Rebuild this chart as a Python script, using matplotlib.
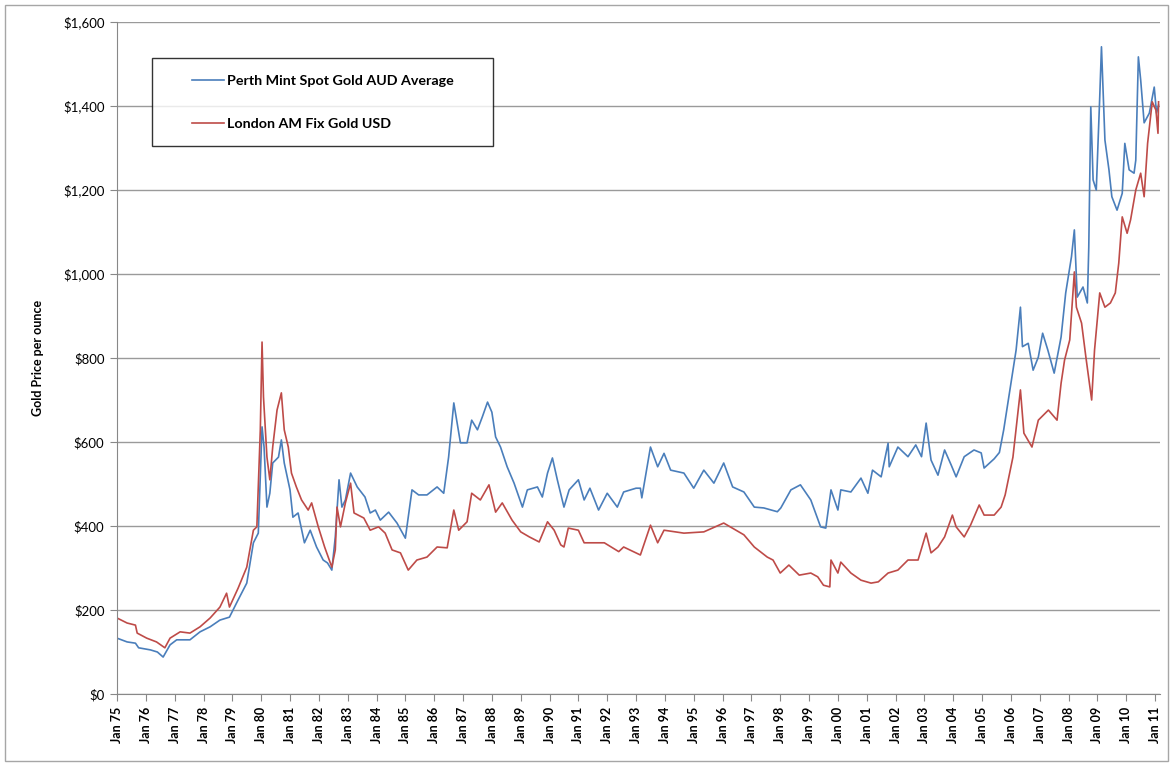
import matplotlib.pyplot as plt
from matplotlib.legend_handler import HandlerLine2D
from matplotlib.patches import Rectangle
from matplotlib.ticker import FuncFormatter
import numpy as np

# -------------------------- Data -------------------------- #

aud_t = [1975.0, 1975.35, 1975.64, 1975.75, 1976.16, 1976.4, 1976.6, 1976.84, 1977.07, 1977.53,
         1977.88, 1978.23, 1978.57, 1978.9, 1979.2, 1979.5, 1979.73, 1979.9, 1980.03, 1980.1,
         1980.2, 1980.3, 1980.4, 1980.6, 1980.7, 1980.8, 1981.0, 1981.1, 1981.28, 1981.5,
         1981.7, 1981.92, 1982.15, 1982.3, 1982.45, 1982.57, 1982.7, 1982.8, 1982.92, 1983.1,
         1983.33, 1983.6, 1983.78, 1983.96, 1984.13, 1984.42, 1984.71, 1985.0, 1985.23, 1985.46,
         1985.75, 1986.1, 1986.33, 1986.5, 1986.68, 1986.91, 1987.14, 1987.3, 1987.5, 1987.67,
         1987.85, 1988.0, 1988.13, 1988.3, 1988.53, 1988.77, 1989.06, 1989.23, 1989.58, 1989.75,
         1989.93, 1990.1, 1990.27, 1990.5, 1990.68, 1991.0, 1991.2, 1991.4, 1991.7, 1992.0,
         1992.35, 1992.57, 1993.0, 1993.15, 1993.2, 1993.5, 1993.75, 1993.97, 1994.2, 1994.66,
         1995.0, 1995.35, 1995.7, 1996.04, 1996.35, 1996.74, 1997.1, 1997.43, 1997.9, 1998.02,
         1998.37, 1998.7, 1999.06, 1999.4, 1999.58, 1999.76, 2000.0, 2000.1, 2000.45, 2000.8,
         2001.04, 2001.2, 2001.5, 2001.74, 2001.78, 2002.08, 2002.43, 2002.7, 2002.9, 2003.06,
         2003.23, 2003.47, 2003.7, 2003.93, 2004.1, 2004.38, 2004.72, 2004.97, 2005.07, 2005.42,
         2005.6, 2005.75, 2006.0, 2006.18, 2006.33, 2006.4, 2006.6, 2006.77, 2006.95, 2007.1,
         2007.28, 2007.5, 2007.74, 2007.9, 2008.1, 2008.2, 2008.3, 2008.5, 2008.65, 2008.7,
         2008.77, 2008.85, 2008.96, 2009.08, 2009.14, 2009.26, 2009.4, 2009.5, 2009.68, 2009.86,
         2009.95, 2010.1, 2010.27, 2010.33, 2010.42, 2010.5, 2010.62, 2010.8, 2010.97, 2011.05,
         2011.12]
aud_price = [133, 124, 121, 110, 105, 100, 88, 117, 129, 129,
             148, 160, 176, 183, 224, 264, 360, 383, 636, 588,
             445, 478, 550, 564, 605, 550, 486, 421, 431, 360,
             390, 350, 319, 312, 295, 374, 510, 445, 462, 526,
             493, 469, 431, 438, 414, 433, 407, 371, 486, 474,
             474, 493, 478, 564, 693, 598, 598, 652, 629, 660,
             695, 671, 612, 588, 541, 502, 445, 486, 493, 469,
             526, 562, 510, 445, 486, 510, 462, 490, 438, 478,
             445, 481, 490, 490, 467, 588, 541, 573, 533, 526,
             490, 533, 502, 550, 493, 481, 445, 443, 434, 443,
             486, 498, 462, 398, 395, 486, 438, 486, 481, 514,
             478, 533, 517, 597, 541, 588, 565, 593, 565, 645,
             557, 521, 581, 545, 517, 565, 581, 574, 538, 560,
             575, 629, 740, 819, 921, 827, 835, 771, 802, 859,
             819, 764, 850, 955, 1041, 1105, 945, 969, 931, 1064,
             1398, 1224, 1200, 1421, 1541, 1319, 1248, 1184, 1152, 1192,
             1311, 1248, 1240, 1271, 1517, 1462, 1360, 1383, 1445, 1383,
             1402]

usd_t = [1975.0, 1975.35, 1975.64, 1975.7, 1976.03, 1976.37, 1976.66, 1976.84, 1977.19, 1977.53,
         1977.88, 1978.23, 1978.57, 1978.8, 1978.9, 1979.2, 1979.5, 1979.73, 1979.85, 1979.97,
         1980.03, 1980.08, 1980.2, 1980.3, 1980.4, 1980.55, 1980.7, 1980.8, 1980.94, 1981.05,
         1981.22, 1981.4, 1981.63, 1981.75, 1981.98, 1982.2, 1982.45, 1982.57, 1982.63, 1982.75,
         1982.92, 1983.1, 1983.22, 1983.56, 1983.78, 1984.07, 1984.3, 1984.54, 1984.83, 1985.1,
         1985.4, 1985.75, 1986.1, 1986.45, 1986.68, 1986.85, 1987.14, 1987.3, 1987.6, 1987.9,
         1988.13, 1988.36, 1988.7, 1989.0, 1989.3, 1989.64, 1989.93, 1990.16, 1990.39, 1990.5,
         1990.65, 1991.0, 1991.2, 1991.9, 1992.4, 1992.57, 1993.15, 1993.5, 1993.75, 1993.97,
         1994.66, 1995.35, 1996.04, 1996.74, 1997.1, 1997.55, 1997.75, 1998.0, 1998.3, 1998.66,
         1999.06, 1999.3, 1999.5, 1999.72, 1999.76, 2000.0, 2000.1, 2000.45, 2000.8, 2001.15,
         2001.4, 2001.74, 2002.08, 2002.43, 2002.78, 2003.06, 2003.23, 2003.47, 2003.7, 2003.97,
         2004.1, 2004.38, 2004.6, 2004.9, 2005.07, 2005.42, 2005.66, 2005.8, 2006.0, 2006.07,
         2006.33, 2006.45, 2006.73, 2006.95, 2007.3, 2007.6, 2007.74, 2007.86, 2008.04, 2008.2,
         2008.27, 2008.45, 2008.6, 2008.8, 2008.9, 2009.08, 2009.26, 2009.45, 2009.62, 2009.74,
         2009.86, 2010.03, 2010.15, 2010.33, 2010.5, 2010.62, 2010.74, 2010.9, 2011.03, 2011.1,
         2011.12]
usd_price = [181, 169, 164, 145, 133, 124, 110, 133, 148, 145,
             160, 181, 207, 240, 207, 252, 302, 390, 398, 629,
             838, 707, 564, 510, 588, 676, 717, 629, 588, 526,
             493, 462, 438, 455, 398, 350, 302, 343, 445, 398,
             455, 502, 431, 419, 390, 398, 383, 343, 336, 295,
             319, 326, 350, 348, 438, 390, 410, 478, 462, 498,
             433, 455, 414, 386, 374, 362, 410, 390, 355, 350,
             395, 390, 360, 360, 339, 350, 331, 402, 360, 390,
             383, 386, 407, 379, 350, 326, 319, 288, 307, 283,
             288, 279, 259, 255, 319, 288, 314, 288, 271, 264,
             267, 288, 295, 319, 319, 383, 336, 350, 374, 426,
             398, 374, 402, 450, 426, 426, 445, 474, 540, 564,
             724, 621, 588, 652, 676, 652, 740, 795, 843, 1005,
             921, 883, 802, 700, 819, 955, 921, 931, 955, 1026,
             1136, 1097, 1129, 1200, 1240, 1184, 1311, 1410, 1390, 1335,
             1410]

years = list(range(1975, 2012))
year_labels = ["Jan %02d" % (y % 100) for y in years]

series_names = ["Perth Mint Spot Gold AUD Average", "London AM Fix Gold USD"]
colors = ["#4a7ebb", "#be4b48"]


class ShiftedLine(HandlerLine2D):
    # legend handle drawn only on the right part of the handle box (Excel style indent)
    def get_xdata(self, legend, xdescent, ydescent, width, height, fontsize):
        x = np.array([-xdescent + width * 0.42, -xdescent + width])
        return x, x


# -------------------------- Plot ---------------------------- #

plt.rcParams['font.family'] = ['Lato', 'DejaVu Sans']

fig = plt.figure(figsize=(11.73, 7.66), dpi=100)
ax = fig.add_axes([117 / 1173, 1 - 694 / 766, 1043 / 1173, 672 / 766])

ax.plot(aud_t, aud_price, color=colors[0], lw=1.2, label=series_names[0])
ax.plot(usd_t, usd_price, color=colors[1], lw=1.2, label=series_names[1])

ax.set_xlim(1975.0, 2011.17)
ax.set_ylim(0, 1600)
ax.set_yticks(range(0, 1601, 200))
ax.yaxis.set_major_formatter(FuncFormatter(lambda v, p: "${:,.0f}".format(v)))
ax.set_xticks(years)
ax.set_xticklabels(year_labels, rotation=90, fontweight='bold', fontsize=9)
ax.tick_params(axis='y', labelsize=9.5, length=5, color='#888888', pad=4)
ax.tick_params(axis='x', length=5, color='#888888', pad=4)

ax.grid(axis='y', color='#9a9a9a', lw=1.0)
ax.set_axisbelow(True)
for side in ['top', 'right']:
    ax.spines[side].set_visible(False)
for side in ['left', 'bottom']:
    ax.spines[side].set_color('#888888')

ax.set_ylabel("Gold Price per ounce", fontweight='bold', fontsize=9, labelpad=14)

leg = ax.legend(loc='upper left', bbox_to_anchor=(0.0336, 0.946, 0.327, 0.0), mode='expand',
                borderaxespad=0, frameon=True, fancybox=False, edgecolor='black',
                handlelength=3.9, handletextpad=0.2, labelspacing=2.15, borderpad=1.15,
                prop={'size': 10.3, 'weight': 'bold'},
                handler_map={plt.Line2D: ShiftedLine()})
leg.get_frame().set_linewidth(1.0)

fig.patches.append(Rectangle((5 / 1173, 5 / 766), 1 - 10 / 1173, 1 - 10 / 766,
                             transform=fig.transFigure, fill=False,
                             edgecolor='#a6a6a6', lw=1.0))

fig.savefig("out.png", dpi=100)
